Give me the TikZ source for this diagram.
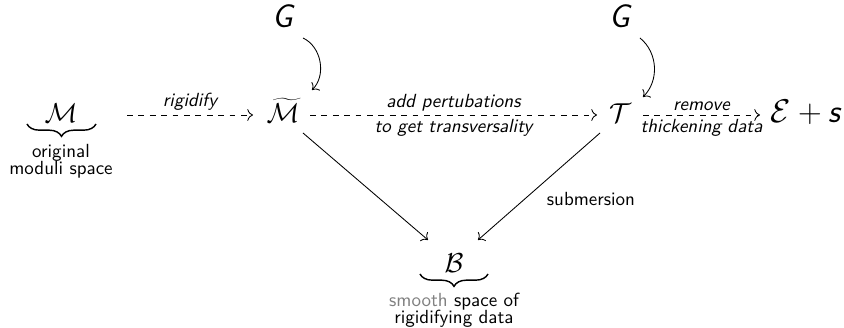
\documentclass[tikz,border=0pt]{standalone}
\usetikzlibrary{calc,decorations.pathreplacing,arrows.meta}
\begin{document}
\begin{tikzpicture}[x=0.526pt,y=-0.526pt,
  >={Computer Modern Rightarrow[scale=1.15]},
  line width=0.45pt,
  obj/.style={inner sep=0pt, anchor=base, font=\LARGE},
  calobj/.style={inner sep=0pt, anchor=base, font=\Large},
  lbl/.style={font=\sffamily\itshape, inner sep=2pt},
  txt/.style={font=\sffamily\fontsize{10pt}{9pt}\selectfont, align=center, inner sep=0pt, anchor=base},
  dasharrow/.style={->, dashed},
  solidarrow/.style={->},
  underbrc/.style={decorate, decoration={brace, mirror, amplitude=6.5pt}, line width=0.75pt}]
\useasboundingbox (0,0) rectangle (844,328);
% main row
\node[calobj] (M) at (61,123) {$\mathcal{M}$};
\coordinate (Mba) at ($(M.base)+(-34,1)$);
\coordinate (Mbb) at ($(M.base)+(35,1)$);
\draw[underbrc] (Mba) -- (Mbb);
\node[txt] (Mtxt) at (61,175) {original\\moduli space};
\node[calobj] (Mt) at (283,123) {$\widetilde{\mathcal{M}}$};
\node[calobj] (T) at (620,123) {$\mathcal{T}$};
\node[obj, anchor=base west] (Es) at (770,123) {$\mathcal{E}+\textsf{\textit{s}}$};
% top row
\node[obj] (G1) at (284,28) {\textsf{\textit{G}}};
\node[obj] (G2) at (621,28) {\textsf{\textit{G}}};
% bottom
\node[calobj] (B) at (454,273) {$\mathcal{B}$};
\coordinate (Bba) at ($(B.base)+(-34,1)$);
\coordinate (Bbb) at ($(B.base)+(34,1)$);
\draw[underbrc] (Bba) -- (Bbb);
\node[txt] (Btxt) at (454,324) {\textcolor{black!50}{smooth} space of\\rigidifying data};
% dashed arrows
\draw[dasharrow] ($(M.base)+(66,-8)$) -- node[lbl, above] {rigidify} ($(Mt.base)+(-30,-8)$);
\draw[dasharrow] ($(Mt.base)+(27,-8)$) -- node[lbl, above] {add pertubations} node[lbl, below] {to get transversality} ($(T.base)+(-23,-8)$);
\draw[dasharrow] ($(T.base)+(23,-8)$) -- node[lbl, above] {remove} node[lbl, below] {thickening data} ($(Es.base west)+(-10,-8)$);
% group actions
\draw[solidarrow] ($(G1.base)+(19,10)$) to[bend left=55] ($(Mt.base)+(29,-33)$);
\draw[solidarrow] ($(G2.base)+(19,10)$) to[bend left=48] ($(T.base)+(23,-26)$);
% projections
\draw[solidarrow] ($(Mt.base)+(20,10)$) -- ($(B.base)+(-26,-33)$);
\draw[solidarrow] ($(T.base)+(-20,10)$) -- ($(B.base)+(24,-33)$);
\node[txt] (sub) at (591,206) {submersion};
\end{tikzpicture}
\end{document}
